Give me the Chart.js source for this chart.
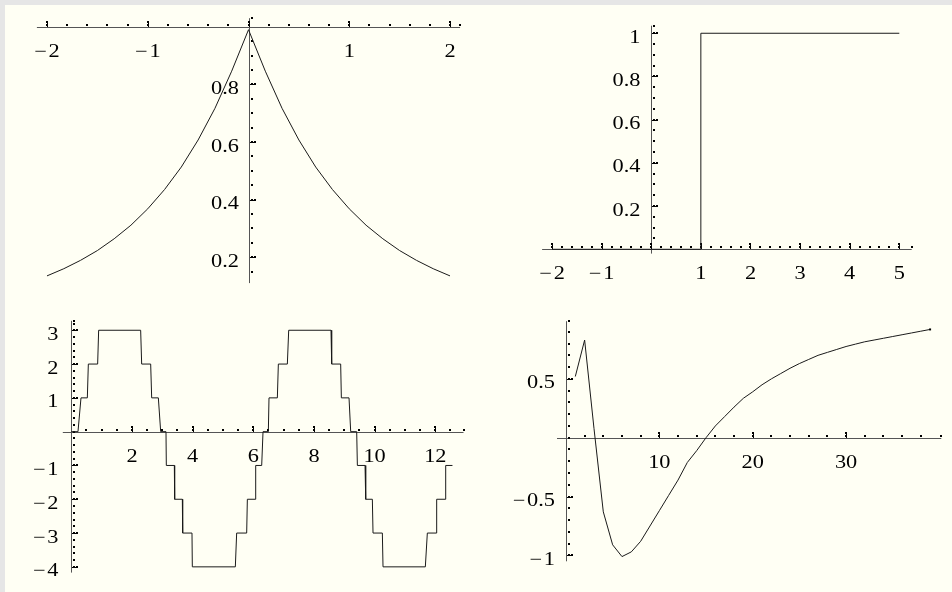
<!DOCTYPE html>
<html>
<head>
<meta charset="utf-8">
<title>Plots</title>
<script src="https://cdn.jsdelivr.net/npm/chart.js@4.4.1/dist/chart.umd.min.js"></script>
<style>
  html, body { margin: 0; padding: 0; }
  body { width: 952px; height: 592px; background: #e6e6e6; position: relative; overflow: hidden; }
  #panel { position: absolute; left: 5px; top: 5px; right: 0; bottom: 0; background: #fffff4; }
  canvas { position: absolute; }
</style>
</head>
<body>
<div id="panel"></div>
<canvas id="plotExp" width="476" height="296" style="left:0;top:0"></canvas>
<canvas id="plotStep" width="476" height="296" style="left:476px;top:0"></canvas>
<canvas id="plotStair" width="476" height="296" style="left:0;top:296px"></canvas>
<canvas id="plotSeq" width="476" height="296" style="left:476px;top:296px"></canvas>
<script>
// ---- data ----
const expX = [-2, -1.833, -1.667, -1.5, -1.333, -1.167, -1, -0.833, -0.667, -0.5, -0.333, -0.167, 0,
              0.167, 0.333, 0.5, 0.667, 0.833, 1, 1.167, 1.333, 1.5, 1.667, 1.833, 2];
const expY = [0.135, 0.160, 0.189, 0.223, 0.264, 0.311, 0.368, 0.435, 0.513, 0.607, 0.717, 0.846, 0.99,
              0.846, 0.717, 0.607, 0.513, 0.435, 0.368, 0.311, 0.264, 0.223, 0.189, 0.160, 0.135];

const stepX = [-2, 1, 1, 5];
const stepY = [0, 0, 1, 1];

const stairX = [0, 0.221, 0.320, 0.529, 0.562, 0.869, 0.902, 2.287, 2.320, 2.617, 2.650, 2.870, 2.947,
                3.122, 3.133, 3.397, 3.408, 3.661, 3.672, 3.979, 3.990, 5.408, 5.452, 5.782, 5.804,
                6.057, 6.079, 6.277, 6.321, 6.496, 6.518, 6.793, 6.826, 7.123, 7.167, 8.562, 8.584,
                8.881, 8.903, 9.156, 9.211, 9.409, 9.431, 9.684, 9.706, 9.925, 9.947, 10.255, 10.277,
                11.672, 11.738, 12.024, 12.046, 12.321, 12.343, 12.566];
const stairY = [0, 0, 1, 1, 2, 2, 3, 3, 2, 2, 1, 1, 0,
                0, -1, -1, -2, -2, -3, -3, -4, -4, -3, -3, -2,
                -2, -1, -1, 0, 0, 1, 1, 2, 2, 3, 3, 2,
                2, 1, 1, 0, 0, -1, -1, -2, -2, -3, -3, -4,
                -4, -3, -3, -2, -2, -1, -1];

const seqN = [1, 2, 3, 4, 5, 6, 7, 8, 9, 10, 11, 12, 13, 14, 15, 16, 17, 18, 19, 20,
              21, 22, 23, 24, 25, 26, 27, 28, 29, 30, 31, 32, 33, 34, 35, 36, 37, 38, 39];
const seqY = [0.52, 0.83, 0.08, -0.63, -0.91, -1.01, -0.97, -0.88, -0.75, -0.62, -0.49, -0.36, -0.21,
              -0.11, 0.0, 0.10, 0.18, 0.26, 0.335, 0.39, 0.45, 0.50, 0.545, 0.59, 0.63, 0.665,
              0.70, 0.725, 0.75, 0.775, 0.795, 0.815, 0.83, 0.845, 0.86, 0.875, 0.89, 0.905, 0.92];

// ---- tick marks and labels ----
const M = '\u2212\u200A';
const expXTicks = [-2, -1, 0, 1, 2];
const expXLabels = [M + '2', M + '1', '', '1', '2'];
const expYTicks = [0.2, 0.4, 0.6, 0.8];
const expYLabels = ['0.2', '0.4', '0.6', '0.8'];

const stepXTicks = [-2, -1, 0, 1, 2, 3, 4, 5];
const stepXLabels = [M + '2', M + '1', '', '1', '2', '3', '4', '5'];
const stepYTicks = [0.2, 0.4, 0.6, 0.8, 1];
const stepYLabels = ['0.2', '0.4', '0.6', '0.8', '1'];

const stairXTicks = [2, 4, 6, 8, 10, 12];
const stairXLabels = ['2', '4', '6', '8', '10', '12'];
const stairYTicks = [-4, -3, -2, -1, 1, 2, 3];
const stairYLabels = [M + '4', M + '3', M + '2', M + '1', '1', '2', '3'];

const seqXTicks = [10, 20, 30];
const seqXLabels = ['10', '20', '30'];
const seqYTicks = [-1, -0.5, 0.5];
const seqYLabels = [M + '1', M + '0.5', '0.5'];

// ---- drawing helpers ----
const TEXT_STRETCH = 1.24;
const LABEL_FONT = '18px "Liberation Serif", "Times New Roman", serif';

function steps(start, stop, step) {
  const out = [];
  const n = Math.round((stop - start) / step);
  for (let i = 0; i <= n; i++) out.push(start + i * step);
  return out;
}

function zip(xs, ys) {
  return xs.map((x, i) => ({ x: x, y: ys[i] }));
}

function stretchedText(ctx, text, x, y, align) {
  ctx.save();
  ctx.translate(x, y);
  ctx.scale(TEXT_STRETCH, 1);
  ctx.textAlign = align;
  ctx.fillText(text, 0, 0);
  ctx.restore();
}

// Axes crossing inside the plot, dotted ticks on the inner side
function crossedAxes(cfg) {
  return {
    id: 'crossedAxes',
    beforeDatasetsDraw(chart) {
      const ctx = chart.ctx;
      const x = chart.scales.x, y = chart.scales.y;
      const ay = Math.round(y.getPixelForValue(cfg.xAxisAt)) + 0.5;
      const ax = Math.round(x.getPixelForValue(cfg.yAxisAt)) + 0.5;

      ctx.save();
      ctx.strokeStyle = '#555';
      ctx.lineWidth = 1;
      ctx.beginPath();
      ctx.moveTo(x.left, ay);
      ctx.lineTo(x.right, ay);
      ctx.moveTo(ax, y.top);
      ctx.lineTo(ax, y.bottom);
      ctx.stroke();

      ctx.fillStyle = '#000';
      cfg.xMinor.concat([x.max]).forEach(v => {
        const px = Math.round(x.getPixelForValue(v));
        ctx.fillRect(px - 1, ay - 3.5, 2, 2);
      });
      cfg.xTicks.forEach(v => {
        const px = Math.round(x.getPixelForValue(v));
        ctx.fillRect(px, ay - 5.5, 1, 5);
        ctx.fillRect(px - 1, ay - 6.5, 2, 2);
      });
      cfg.yMinor.concat([y.max]).forEach(v => {
        const py = Math.round(y.getPixelForValue(v));
        ctx.fillRect(ax + 1.5, py - 1, 2, 2);
      });
      cfg.yTicks.forEach(v => {
        const py = Math.round(y.getPixelForValue(v));
        ctx.fillRect(ax + 0.5, py, 5, 1);
        ctx.fillRect(ax + 4.5, py - 1, 2, 2);
      });

      ctx.font = LABEL_FONT;
      ctx.textBaseline = 'alphabetic';
      cfg.xTicks.forEach((v, i) => {
        if (cfg.xLabels[i]) stretchedText(ctx, cfg.xLabels[i], x.getPixelForValue(v), ay + 29.5, 'center');
      });
      cfg.yTicks.forEach((v, i) => {
        stretchedText(ctx, cfg.yLabels[i], ax - cfg.yGap, y.getPixelForValue(v) + 9.5, 'right');
      });
      ctx.restore();
    }
  };
}

function makePlot(id, points, opts) {
  const last = points.length - 1;
  return new Chart(document.getElementById(id), {
    type: 'line',
    data: {
      datasets: [{
        data: points,
        borderColor: '#1a1a1a',
        borderWidth: 1,
        tension: 0,
        fill: false,
        clip: false,
        pointStyle: 'rect',
        pointBackgroundColor: '#000',
        pointBorderWidth: 0,
        pointRadius: c => (opts.endDot && c.dataIndex === last) ? 1.4 : 0
      }]
    },
    options: {
      responsive: false,
      animation: false,
      events: [],
      layout: { padding: opts.padding },
      plugins: { legend: { display: false }, tooltip: { enabled: false } },
      scales: {
        x: { type: 'linear', display: false, min: opts.xRange[0], max: opts.xRange[1] },
        y: { type: 'linear', display: false, min: opts.yRange[0], max: opts.yRange[1] }
      }
    },
    plugins: [crossedAxes(opts.axes)]
  });
}

makePlot('plotExp', zip(expX, expY), {
  padding: { left: 36.9, right: 15.9, top: 18.2, bottom: 12.9 },
  xRange: [-2.1, 2.1], yRange: [0.11, 1.03],
  axes: {
    xAxisAt: 1, yAxisAt: 0, yGap: 10.5,
    xTicks: expXTicks, xLabels: expXLabels, xMinor: steps(-2, 2, 0.2),
    yTicks: expYTicks, yLabels: expYLabels, yMinor: steps(0.15, 0.95, 0.05)
  }
});

makePlot('plotStep', zip(stepX, stepY), {
  padding: { left: 66.1, right: 40.3, top: 25.7, bottom: 42.4 },
  xRange: [-2.2, 5.25], yRange: [-0.02, 1.035],
  axes: {
    xAxisAt: 0, yAxisAt: 0, yGap: 11,
    xTicks: stepXTicks, xLabels: stepXLabels, xMinor: steps(-2, 5, 0.2),
    yTicks: stepYTicks, yLabels: stepYLabels, yMinor: steps(0.05, 1, 0.05)
  }
});

makePlot('plotStair', zip(stairX, stairY), {
  padding: { left: 62.8, right: 12.5, top: 24.8, bottom: 19.4 },
  xRange: [-0.28, 12.93], yRange: [-4.17, 3.28],
  axes: {
    xAxisAt: 0, yAxisAt: 0, yGap: 13,
    xTicks: stairXTicks, xLabels: stairXLabels, xMinor: steps(0.5, 12.5, 0.5),
    yTicks: stairYTicks, yLabels: stairYLabels, yMinor: steps(-4, 3.2, 0.2)
  }
});

makePlot('plotSeq', zip(seqN, seqY), {
  padding: { left: 81, right: 10.7, top: 25.2, bottom: 30.7 },
  xRange: [-0.96, 40.2], yRange: [-1.05, 0.99],
  axes: {
    xAxisAt: 0, yAxisAt: 0, yGap: 11.5,
    xTicks: seqXTicks, xLabels: seqXLabels, xMinor: steps(2, 38, 2),
    yTicks: seqYTicks, yLabels: seqYLabels, yMinor: steps(-1, 0.9, 0.1)
  },
  endDot: true
});
</script>
</body>
</html>
